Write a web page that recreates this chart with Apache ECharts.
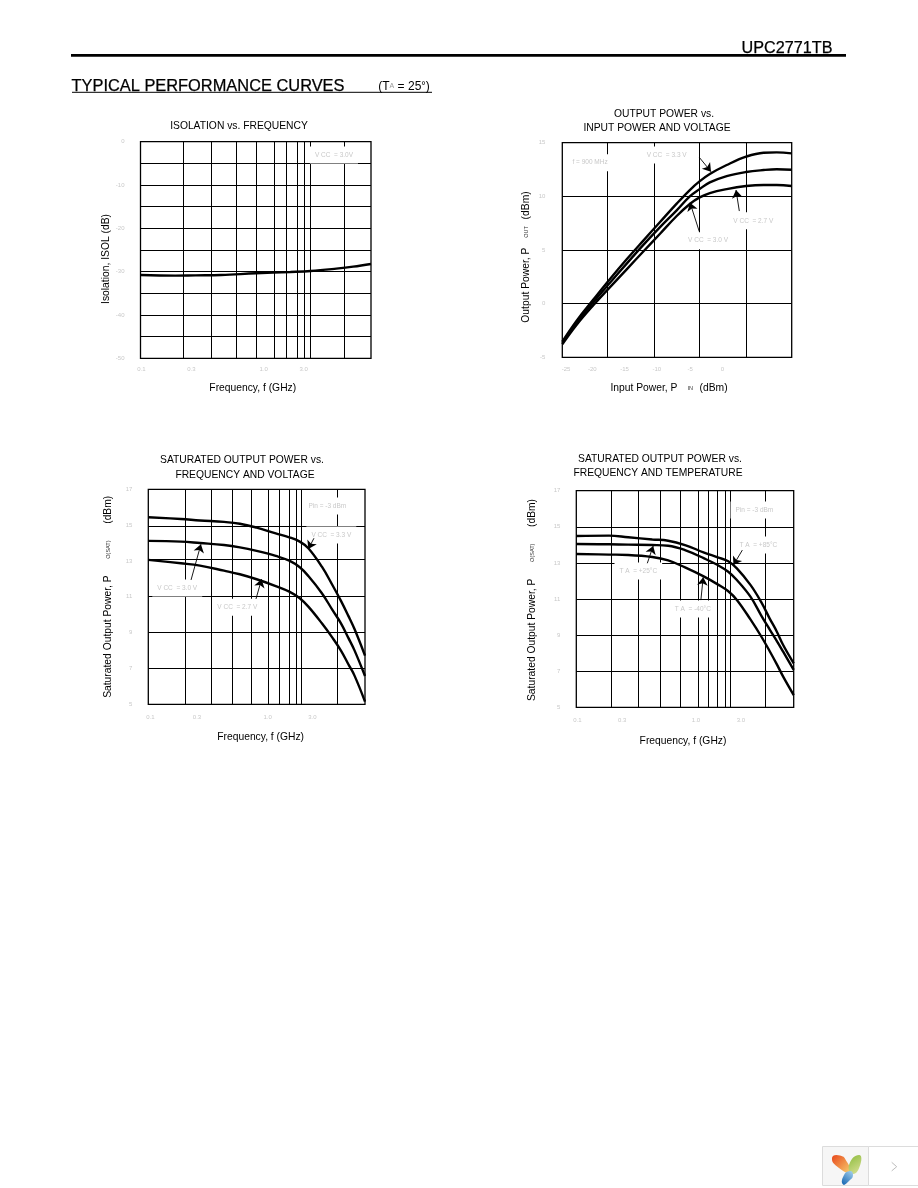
<!DOCTYPE html>
<html><head><meta charset="utf-8">
<style>html,body{margin:0;padding:0;background:#fff}#c{width:918px;height:1188px}</style>
<script src="https://cdn.jsdelivr.net/npm/echarts@6/dist/echarts.min.js"></script>
</head><body><div id="c"></div>
<script>
// ---- data ----
const isoFreq = [0.1,0.2,0.3,0.5,1,2,3,5,7,10];
const isoDb = [-30.77,-30.92,-30.85,-30.77,-30.38,-30.08,-29.85,-29.3,-28.85,-28.23];
const isoGridF = [0.235,0.411,0.677,1.01,1.446,1.84,2.29,2.64,2.97,5.87];

const pin = [-25.6,-23.3,-20.6,-18,-15.3,-12.6,-10,-7.3,-5.2,-3.7,-2,0.7,3.8,6.6,8.7,11.1];
const pout33 = [-3.54,-1.58,0.40,2.27,4.13,5.90,7.58,9.32,10.59,11.37,12.08,12.92,13.70,14.07,14.10,14.0];
const pout30 = [-3.66,-1.77,0.16,1.93,3.73,5.50,7.11,8.70,10.0,10.65,11.30,11.89,12.27,12.45,12.52,12.48];
const pout27 = [-3.79,-1.96,-0.12,1.52,3.20,4.88,6.49,8.17,9.29,9.88,10.31,10.68,10.96,11.06,11.06,10.96];
const pinGrid = [-18.4,-10.9,-3.7,3.8];

const satFreq = [0.1,0.2,0.3,0.5,0.7,1,1.5,2,2.5,3,4,5,6,7,8,10];
const sat33 = [15.44,15.34,15.26,15.18,15.08,14.86,14.54,14.32,14.08,13.71,12.68,11.66,10.77,9.95,9.2,7.72];
const sat30 = [14.12,14.08,14.0,13.89,13.76,13.56,13.28,13.02,12.65,12.16,11.20,10.27,9.52,8.72,8.01,6.58];
const sat27 = [13.06,12.87,12.74,12.46,12.26,11.98,11.60,11.29,10.92,10.45,9.52,8.72,8.0,7.25,6.6,5.15];
const satGridF = [0.221,0.3815,0.6,0.899,1.28,1.62,2.0,2.31,2.6,5.55];
const satGridDb = [7.01,9.02,11.03,13.09,14.93];

const tempP85 = [14.49,14.51,14.42,14.30,14.23,13.99,13.57,13.31,13.09,12.70,11.78,10.85,9.93,9.19,8.45,7.44];
const tempP25 = [14.05,14.03,14.01,13.99,13.95,13.71,13.25,12.88,12.51,12.05,11.13,10.11,9.32,8.67,8.08,7.07];
const tempM40 = [13.49,13.46,13.44,13.33,13.14,12.75,12.24,11.81,11.43,10.95,9.87,8.95,8.12,7.38,6.70,5.68];
const tempGridF = [0.21,0.372,0.593,0.906,1.318,1.64,1.984,2.35,2.63,5.48];

const freqTickValues = [0.1,0.3,1,3];
const freqTickLabels = ['0.1','0.3','1.0','3.0'];
const pinTickValues = [-25,-20,-15,-10,-5,0];
const pinTickLabels = ['-25','-20','-15','-10','-5','0'];
const isoTicks = [0,-10,-20,-30,-40,-50];
const isoGrid = [-5,-10,-15,-20,-25,-30,-35,-40,-45];
const poutTicks = [15,10,5,0,-5];
const satTicks = [17,15,13,11,9,7,5];

// ---- helpers ----
const FONT = '"Liberation Sans",Arial,sans-serif';
const GRAY = '#c8c8c8';
const charts = [
 {box:[140.5,141.7,230.5,216.6], x:{log:1,min:0.1,max:10,grid:isoGridF,vals:freqTickValues,labs:freqTickLabels,off:[1,-4,8,-7],margin:8},
  y:{min:-50,max:0,grid:isoGrid,vals:isoTicks,margin:16},
  xName:'{a|Frequency, f (GHz)}', xGap:24.5, xShift:-3, yName:'{a|Isolation, ISOL (dB)}', yGap:29, yShift:9,
  xs:isoFreq, curves:[isoDb],
  notes:[['V CC  = 3.0V',4.77,-3.08]], arrows:[]},
 {box:[562.3,142.7,229.4,214.6], x:{min:-25.6,max:11.1,grid:pinGrid,vals:pinTickValues,labs:pinTickLabels,off:[0,-5,-4,-3,-1,0],margin:9},
  y:{min:-5,max:15,grid:[0,5,10],vals:poutTicks,margin:17},
  xName:'{a|Input Power, P}   {s|IN}  {a|(dBm)}', xGap:25, xShift:-8, yName:'{a|Output Power, P}   {s|OUT}  {a|(dBm)}', yGap:30, yShift:7,
  xs:pin, curves:[pout33,pout30,pout27],
  notes:[['f = 900 MHz',-21.16,13.14],['V CC  = 3.3 V',-8.9,13.85],['V CC  = 2.7 V',4.96,7.73],['V CC  = 3.0 V',-2.29,5.87]],
  arrows:[[-3.68,13.63,-1.81,12.3],[2.72,8.63,2.19,10.59],[-3.68,6.71,-5.17,9.41]]},
 {box:[148.3,489.3,216.7,215], x:{log:1,min:0.1,max:10,grid:satGridF,vals:freqTickValues,labs:freqTickLabels,off:[2,-3,11,4],margin:10},
  y:{min:5,max:17,grid:satGridDb,vals:satTicks,margin:16},
  xName:'{a|Frequency, f (GHz)}', xGap:27.5, xShift:4, yName:'{a|Saturated Output Power, P}     {s|O(SAT)}     {a|(dBm)}', yGap:34, yShift:0,
  xs:satFreq, curves:[sat33,sat30,sat27],
  notes:[['Pin = -3 dBm',4.49,16.07],['V CC  = 3.3 V',4.89,14.45],['V CC  = 3.0 V',0.185,11.49],['V CC  = 2.7 V',0.663,10.41]],
  arrows:[[3.38,14.27,3.0,13.67],[0.248,11.94,0.306,13.93],[0.986,10.88,1.11,11.98]]},
 {box:[576.3,490.7,217.4,216.6], x:{log:1,min:0.1,max:10,grid:tempGridF,vals:freqTickValues,labs:freqTickLabels,off:[1,-6,11,4],margin:10},
  y:{min:5,max:17,grid:[7,9,11,13,15],vals:satTicks,margin:16},
  xName:'{a|Frequency, f (GHz)}', xGap:29, xShift:-2, yName:'{a|Saturated Output Power, P}     {s|O(SAT)}     {a|(dBm)}', yGap:38, yShift:1,
  xs:satFreq, curves:[tempP85,tempP25,tempM40],
  notes:[['Pin = -3 dBm',4.35,15.93],['T A  = +85°C',4.73,13.99],['T A  = +25°C',0.372,12.55],['T A  = -40°C',1.18,10.45]],
  arrows:[[3.37,13.71,2.79,12.88],[0.45,12.98,0.51,13.94],[1.40,10.94,1.47,12.2]]}
];
const nameRich = {a:{fontFamily:FONT,fontSize:10.3,color:'#000'},s:{fontFamily:FONT,fontSize:5.5,color:'#333'}};
const grid=[],xAxis=[],yAxis=[],series=[];
charts.forEach((c,i)=>{
  grid.push({left:c.box[0],top:c.box[1],width:c.box[2],height:c.box[3],show:true,borderColor:'#000',borderWidth:1.3,backgroundColor:'#fff'});
  const rich={};
  c.x.off.forEach((o,k)=>{rich['o'+k]={fontFamily:FONT,fontSize:6,color:GRAY,padding:o>=0?[0,0,0,2*o]:[0,-2*o,0,0]};});
  xAxis.push({gridIndex:i,type:c.x.log?'log':'value',logBase:10,min:c.x.min,max:c.x.max,
    axisLine:{show:false},
    axisTick:{show:false,customValues:c.x.grid},
    splitLine:{show:true,lineStyle:{color:'#000',width:1}},minorSplitLine:{show:false},
    axisLabel:{show:true,margin:c.x.margin,customValues:c.x.vals,rich,hideOverlap:false,
      formatter:v=>{const k=c.x.vals.findIndex(t=>Math.abs(t-v)<1e-6);return '{o'+k+'|'+c.x.labs[k]+'}';}},
    name:c.xName,nameLocation:'middle',nameGap:c.xGap,
    nameTextStyle:{rich:nameRich,padding:c.xShift<0?[0,-2*c.xShift,0,0]:[0,0,0,2*c.xShift]}});
  yAxis.push({gridIndex:i,type:'value',min:c.y.min,max:c.y.max,
    axisLine:{show:false},
    axisTick:{show:false,customValues:c.y.grid},
    splitLine:{show:true,lineStyle:{color:'#000',width:1}},
    axisLabel:{show:true,margin:c.y.margin,customValues:c.y.vals,fontFamily:FONT,fontSize:6,color:GRAY,hideOverlap:false},
    name:c.yName,nameLocation:'middle',nameGap:c.yGap,nameRotate:90,
    nameTextStyle:{rich:nameRich,padding:c.yShift>0?[0,2*c.yShift,0,0]:[0,0,0,0]}});
  c.curves.forEach((vals,k)=>{
    const s={type:'line',xAxisIndex:i,yAxisIndex:i,smooth:0.4,symbol:'none',silent:true,animation:false,z:3,
      lineStyle:{color:'#000',width:2.4},data:vals.map((v,n)=>[c.xs[n],v])};
    if(k===0){
      s.markPoint={silent:true,animation:false,symbol:'rect',symbolSize:1,itemStyle:{color:'rgba(255,255,255,0)'},z:4,
        label:{show:true,position:'inside',fontFamily:FONT,fontSize:6.5,color:GRAY,backgroundColor:'#fff',padding:[5,5,5,5],formatter:p=>p.name},
        data:c.notes.map(n=>({name:n[0],coord:[n[1],n[2]]}))};
      s.markLine={silent:true,animation:false,z:5,symbol:['none','arrow'],symbolSize:8,
        label:{show:false},emphasis:{disabled:true},lineStyle:{color:'#000',width:0.9,type:'solid'},
        data:c.arrows.map(a=>[{coord:[a[0],a[1]]},{coord:[a[2],a[3]]}])};
    }
    series.push(s);
  });
});
const tt=(text,x,y,size,extra)=>Object.assign({text,left:x,top:y,textAlign:'center',textVerticalAlign:'middle',padding:0,
  textStyle:Object.assign({fontFamily:FONT,fontSize:size,fontWeight:'normal',color:'#000'},extra||{})});
const TS=10.3;
const BOLDISH={textBorderColor:'#000',textBorderWidth:0.25};
const title=[
 tt('ISOLATION vs. FREQUENCY',239,126,TS),
 tt('OUTPUT POWER vs.',664,114,TS),
 tt('INPUT POWER AND VOLTAGE',657,128,TS),
 tt('SATURATED OUTPUT POWER vs.',242,460.5,TS),
 tt('FREQUENCY AND VOLTAGE',245,475,TS),
 tt('SATURATED OUTPUT POWER vs.',660,459,TS),
 tt('FREQUENCY AND TEMPERATURE',658,473,TS),
 tt('UPC2771TB',787,48.5,16.2,BOLDISH),
 tt('TYPICAL PERFORMANCE CURVES',208,86,16.4,BOLDISH),
 tt('(T{s|A} = 25{d|°})',404,86.5,12,{rich:{s:{fontFamily:FONT,fontSize:7,color:'#999'},d:{fontFamily:FONT,fontSize:11,verticalAlign:'top',color:'#000'}}})
];
const line=(x1,y1,x2,y2,w,col)=>({type:'line',silent:true,shape:{x1,y1,x2,y2},style:{stroke:col||'#000',lineWidth:w}});
const grad=(a,b)=>({type:'linear',x:0,y:0,x2:1,y2:1,colorStops:[{offset:0,color:a},{offset:1,color:b}]});
const graphic={elements:[
 line(71,55.3,846,55.3,2.7),
 line(72,92.3,432,92.3,1),
 {type:'rect',silent:true,shape:{x:822.5,y:1146.5,width:46,height:39},style:{fill:'#f6f6f6',stroke:'#dcdcdc',lineWidth:1}},
 {type:'rect',silent:true,shape:{x:868.5,y:1146.5,width:50,height:39},style:{fill:'#fff',stroke:'#dcdcdc',lineWidth:1}},
 {type:'polygon',silent:true,shape:{smooth:0.6,points:[[832,1158],[840,1155.5],[847,1162],[850,1172],[839,1168]]},style:{fill:grad('#e8481c','#f7d070')}},
 {type:'polygon',silent:true,shape:{smooth:0.6,points:[[859,1155],[860.5,1164],[853,1174],[849,1165]]},style:{fill:grad('#8cbb3c','#dce29a')}},
 {type:'polygon',silent:true,shape:{smooth:0.6,points:[[843,1184.5],[843.5,1176],[850,1171],[853,1175],[849,1181]]},style:{fill:{type:'linear',x:1,y:0,x2:0,y2:1,colorStops:[{offset:0,color:'#a9d3ee'},{offset:1,color:'#0f62b0'}]}}},
 {type:'polyline',silent:true,shape:{points:[[891.7,1162.3],[896.7,1166.7],[891.7,1170.9]]},style:{stroke:'#bdbdbd',lineWidth:1,fill:null}}
]};
const chart=echarts.init(document.getElementById('c'),null,{renderer:'canvas'});
chart.setOption({animation:false,backgroundColor:'#fff',tooltip:{show:false},legend:{show:false},title,grid,xAxis,yAxis,series,graphic});
</script></body></html>
